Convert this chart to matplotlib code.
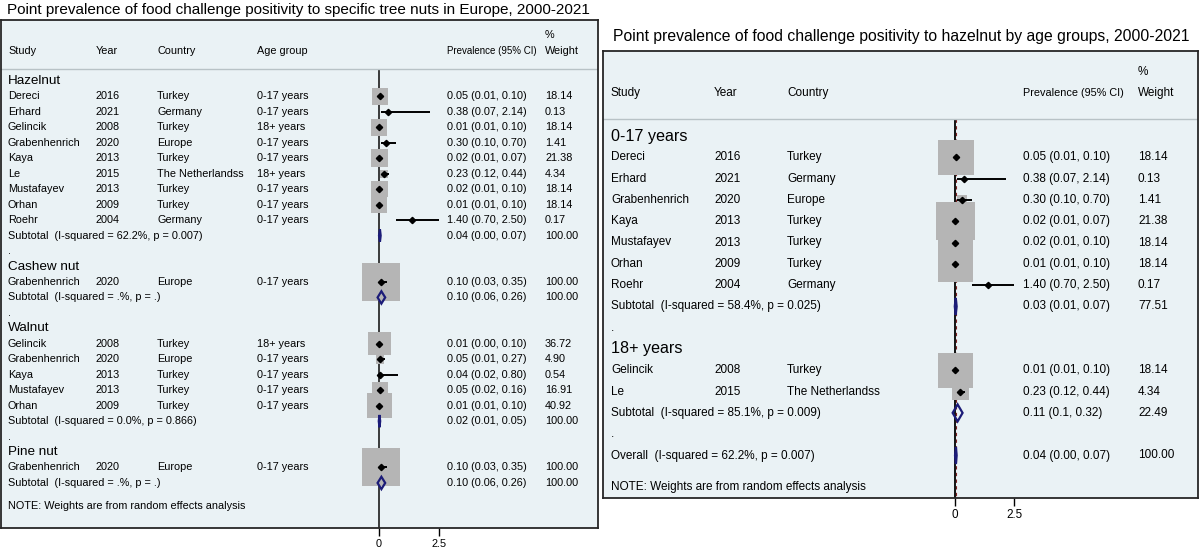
import matplotlib
matplotlib.use("Agg")
import matplotlib.pyplot as plt
from matplotlib.patches import Polygon
import numpy as np

plt.rcParams['font.family'] = ['Liberation Sans', 'DejaVu Sans']

# ---------------- left panel: tree nuts ----------------
left_title = "Point prevalence of food challenge positivity to specific tree nuts in Europe, 2000-2021"
left_groups = ["Hazelnut", "Cashew nut", "Walnut", "Pine nut"]

hz_study = ["Dereci", "Erhard", "Gelincik", "Grabenhenrich", "Kaya", "Le", "Mustafayev", "Orhan", "Roehr"]
hz_year = [2016, 2021, 2008, 2020, 2013, 2015, 2013, 2009, 2004]
hz_country = ["Turkey", "Germany", "Turkey", "Europe", "Turkey", "The Netherlandss", "Turkey", "Turkey", "Germany"]
hz_age = ["0-17 years", "0-17 years", "18+ years", "0-17 years", "0-17 years", "18+ years", "0-17 years", "0-17 years", "0-17 years"]
hz_est = [0.05, 0.38, 0.01, 0.30, 0.02, 0.23, 0.02, 0.01, 1.40]
hz_lo = [0.01, 0.07, 0.01, 0.10, 0.01, 0.12, 0.01, 0.01, 0.70]
hz_hi = [0.10, 2.14, 0.10, 0.70, 0.07, 0.44, 0.10, 0.10, 2.50]
hz_w = [18.14, 0.13, 18.14, 1.41, 21.38, 4.34, 18.14, 18.14, 0.17]

ca_study = ["Grabenhenrich"]
ca_year = [2020]
ca_country = ["Europe"]
ca_age = ["0-17 years"]
ca_est = [0.10]
ca_lo = [0.03]
ca_hi = [0.35]
ca_w = [100.00]

wa_study = ["Gelincik", "Grabenhenrich", "Kaya", "Mustafayev", "Orhan"]
wa_year = [2008, 2020, 2013, 2013, 2009]
wa_country = ["Turkey", "Europe", "Turkey", "Turkey", "Turkey"]
wa_age = ["18+ years", "0-17 years", "0-17 years", "0-17 years", "0-17 years"]
wa_est = [0.01, 0.05, 0.04, 0.05, 0.01]
wa_lo = [0.00, 0.01, 0.02, 0.02, 0.01]
wa_hi = [0.10, 0.27, 0.80, 0.16, 0.10]
wa_w = [36.72, 4.90, 0.54, 16.91, 40.92]

pi_study = ["Grabenhenrich"]
pi_year = [2020]
pi_country = ["Europe"]
pi_age = ["0-17 years"]
pi_est = [0.10]
pi_lo = [0.03]
pi_hi = [0.35]
pi_w = [100.00]

left_sub_label = ["Subtotal  (I-squared = 62.2%, p = 0.007)", "Subtotal  (I-squared = .%, p = .)",
                  "Subtotal  (I-squared = 0.0%, p = 0.866)", "Subtotal  (I-squared = .%, p = .)"]
left_sub_est = [0.04, 0.10, 0.02, 0.10]
left_sub_lo = [0.00, -0.06, -0.01, -0.06]
left_sub_hi = [0.07, 0.26, 0.05, 0.26]
left_sub_ci = ["0.04 (0.00, 0.07)", "0.10 (0.06, 0.26)", "0.02 (0.01, 0.05)", "0.10 (0.06, 0.26)"]
left_sub_w = [100.00, 100.00, 100.00, 100.00]

# ---------------- right panel: hazelnut by age ----------------
right_title = "Point prevalence of food challenge positivity to hazelnut by age groups, 2000-2021"
right_groups = ["0-17 years", "18+ years"]

ch_study = ["Dereci", "Erhard", "Grabenhenrich", "Kaya", "Mustafayev", "Orhan", "Roehr"]
ch_year = [2016, 2021, 2020, 2013, 2013, 2009, 2004]
ch_country = ["Turkey", "Germany", "Europe", "Turkey", "Turkey", "Turkey", "Germany"]
ch_est = [0.05, 0.38, 0.30, 0.02, 0.02, 0.01, 1.40]
ch_lo = [0.01, 0.07, 0.10, 0.01, 0.01, 0.01, 0.70]
ch_hi = [0.10, 2.14, 0.70, 0.07, 0.10, 0.10, 2.50]
ch_w = [18.14, 0.13, 1.41, 21.38, 18.14, 18.14, 0.17]

ad_study = ["Gelincik", "Le"]
ad_year = [2008, 2015]
ad_country = ["Turkey", "The Netherlandss"]
ad_est = [0.01, 0.23]
ad_lo = [0.01, 0.12]
ad_hi = [0.10, 0.44]
ad_w = [18.14, 4.34]

right_sub_label = ["Subtotal  (I-squared = 58.4%, p = 0.025)", "Subtotal  (I-squared = 85.1%, p = 0.009)",
                   "Overall  (I-squared = 62.2%, p = 0.007)"]
right_sub_est = [0.03, 0.11, 0.04]
right_sub_lo = [-0.01, -0.10, 0.00]
right_sub_hi = [0.07, 0.32, 0.07]
right_sub_ci = ["0.03 (0.01, 0.07)", "0.11 (0.1, 0.32)", "0.04 (0.00, 0.07)"]
right_sub_w = [77.51, 22.49, 100.00]

note = "NOTE: Weights are from random effects analysis"

BG = "#eaf2f5"
BOX = "#b5b5b5"
NAVY = "#1c1c78"

W, H = 1200, 548
fig = plt.figure(figsize=(W / 100, H / 100), dpi=100)


def make_panel(frame, zero_px, ppu, row0, rowh, tick_fs):
    x0, y0, x1, y1 = frame
    ax = fig.add_axes([x0 / W, 1 - y1 / H, (x1 - x0) / W, (y1 - y0) / H])
    ax.set_xlim((x0 - zero_px) / ppu, (x1 - zero_px) / ppu)
    ax.set_ylim((y1 - row0) / rowh, (y0 - row0) / rowh)
    ax.set_facecolor(BG)
    for s in ax.spines.values():
        s.set_color("#262626")
        s.set_linewidth(1.3)
    ax.set_yticks([])
    ax.set_xticks([0, 2.5])
    ax.set_xticklabels(["0", "2.5"])
    ax.tick_params(axis="x", direction="out", length=5.8, width=1.0, pad=2, labelsize=tick_fs)
    colx = lambda px: (px - zero_px) / ppu
    return ax, colx


def study_marks(ax, y, est, lo, hi, w, wmax):
    side = 38.5 * np.sqrt(np.array(w) / wmax) * 0.72
    ax.scatter(est, y, s=side ** 2, marker="s", color=BOX, linewidths=0, zorder=2)
    ax.hlines(y, lo, hi, color="black", lw=1.4, zorder=3)
    ax.plot(est, y, "D", color="black", ms=3.2, zorder=4)


def diamond(ax, y, est, lo, hi):
    h = 0.4
    ax.add_patch(Polygon([(lo, y), (est, y - h), (hi, y), (est, y + h)], closed=True,
                         fill=False, edgecolor=NAVY, lw=1.6, zorder=3))


# ---------------- draw left panel ----------------
axL, cxL = make_panel((1, 20, 598, 528), 379, 23.85, 81, 15.46, 7.8)
colsL = [cxL(8), cxL(96), cxL(157), cxL(257), cxL(447), cxL(545)]
fs = 7.8
sep = -0.78
axL.axhline(sep, color="#b8c2c6", lw=1.0)
axL.vlines(0, sep, axL.get_ylim()[0], color="#3a3a3a", lw=1.4, zorder=1)
for cx, t in zip(colsL[:4], ["Study", "Year", "Country", "Age group"]):
    axL.text(cx, -1.94, t, fontsize=fs, va="center")
axL.text(colsL[4], -1.94, "Prevalence (95% CI)", fontsize=7.0, va="center")
axL.text(colsL[5], -2.98, "%", fontsize=fs, va="center")
axL.text(colsL[5], -1.94, "Weight", fontsize=fs, va="center")

left_data = [
    (hz_study, hz_year, hz_country, hz_age, hz_est, hz_lo, hz_hi, hz_w),
    (ca_study, ca_year, ca_country, ca_age, ca_est, ca_lo, ca_hi, ca_w),
    (wa_study, wa_year, wa_country, wa_age, wa_est, wa_lo, wa_hi, wa_w),
    (pi_study, pi_year, pi_country, pi_age, pi_est, pi_lo, pi_hi, pi_w),
]
wmaxL = max(max(g[7]) for g in left_data)
r = 0
for gi, (st, yr, co, ag, est, lo, hi, w) in enumerate(left_data):
    axL.text(colsL[0], r, left_groups[gi], fontsize=9.7, va="center")
    ys = np.arange(r + 1, r + 1 + len(st))
    for k in range(len(st)):
        vals = [st[k], str(yr[k]), co[k], ag[k],
                f"{est[k]:.2f} ({lo[k]:.2f}, {hi[k]:.2f})", f"{w[k]:.2f}"]
        for cx, t in zip(colsL, vals):
            axL.text(cx, ys[k], t, fontsize=fs, va="center")
    study_marks(axL, ys, est, lo, hi, w, wmaxL)
    rs = r + 1 + len(st)
    axL.text(colsL[0], rs, left_sub_label[gi], fontsize=fs, va="center")
    axL.text(colsL[4], rs, left_sub_ci[gi], fontsize=fs, va="center")
    axL.text(colsL[5], rs, f"{left_sub_w[gi]:.2f}", fontsize=fs, va="center")
    diamond(axL, rs, left_sub_est[gi], left_sub_lo[gi], left_sub_hi[gi])
    if gi < len(left_data) - 1:
        axL.text(colsL[0], rs + 1, ".", fontsize=fs, va="center")
    r = rs + 2
axL.text(colsL[0], r - 0.5, note, fontsize=fs, va="center")
fig.text(7 / W, 1 - 10 / H, left_title, fontsize=11.0, va="center", ha="left")

# ---------------- draw right panel ----------------
axR, cxR = make_panel((603, 51, 1198, 498), 955, 23.7, 136, 21.3, 8.4)
colsR = [cxR(611), cxR(714), cxR(787), cxR(1023), cxR(1138)]
fs2 = 8.5
axR.axhline(sep, color="#b8c2c6", lw=1.0)
ybot = axR.get_ylim()[0]
axR.vlines(0, sep, ybot, color="black", lw=1.3, zorder=1)
axR.plot([right_sub_est[2], right_sub_est[2]], [sep, ybot], color="#7a2020", lw=0.8,
         dashes=(3, 3), zorder=1.5)
for cx, t in zip(colsR[:3], ["Study", "Year", "Country"]):
    axR.text(cx, -2.02, t, fontsize=fs2, va="center")
axR.text(colsR[3], -2.02, "Prevalence (95% CI)", fontsize=7.8, va="center")
axR.text(colsR[4], -3.0, "%", fontsize=fs2, va="center")
axR.text(colsR[4], -2.02, "Weight", fontsize=fs2, va="center")

right_data = [
    (ch_study, ch_year, ch_country, ch_est, ch_lo, ch_hi, ch_w),
    (ad_study, ad_year, ad_country, ad_est, ad_lo, ad_hi, ad_w),
]
wmaxR = max(max(g[6]) for g in right_data)
r = 0
for gi, (st, yr, co, est, lo, hi, w) in enumerate(right_data):
    axR.text(colsR[0], r, right_groups[gi], fontsize=11.6, va="center")
    ys = np.arange(r + 1, r + 1 + len(st))
    for k in range(len(st)):
        vals = [st[k], str(yr[k]), co[k],
                f"{est[k]:.2f} ({lo[k]:.2f}, {hi[k]:.2f})", f"{w[k]:.2f}"]
        for cx, t in zip(colsR, vals):
            axR.text(cx, ys[k], t, fontsize=fs2, va="center")
    study_marks(axR, ys, est, lo, hi, w, wmaxR)
    rs = r + 1 + len(st)
    axR.text(colsR[0], rs, right_sub_label[gi], fontsize=fs2, va="center")
    axR.text(colsR[3], rs, right_sub_ci[gi], fontsize=fs2, va="center")
    axR.text(colsR[4], rs, f"{right_sub_w[gi]:.2f}", fontsize=fs2, va="center")
    diamond(axR, rs, right_sub_est[gi], right_sub_lo[gi], right_sub_hi[gi])
    axR.text(colsR[0], rs + 1, ".", fontsize=fs2, va="center")
    r = rs + 2
axR.text(colsR[0], r, right_sub_label[2], fontsize=fs2, va="center")
axR.text(colsR[3], r, right_sub_ci[2], fontsize=fs2, va="center")
axR.text(colsR[4], r, f"{right_sub_w[2]:.2f}", fontsize=fs2, va="center")
diamond(axR, r, right_sub_est[2], right_sub_lo[2], right_sub_hi[2])
axR.text(colsR[0], r + 1.5, note, fontsize=fs2, va="center")
fig.text(613 / W, 1 - 37 / H, right_title, fontsize=11.3, va="center", ha="left")

fig.savefig("out.png", dpi=100)
